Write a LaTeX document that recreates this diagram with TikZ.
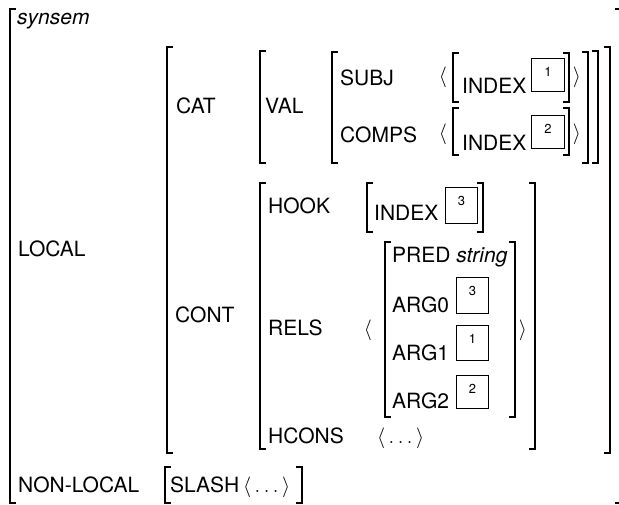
\documentclass[tikz,border=0pt]{standalone}
\usepackage{fontspec}
\setmainfont{TeX Gyre Heros}
\tikzset{
  br/.style={line width=1.1pt, line cap=rect},
  txt/.style={anchor=base west, inner sep=0pt, font=\fontsize{21}{25}\selectfont},
  ang/.style={inner sep=0pt, font=\fontsize{21}{25}\selectfont},
  tagbox/.style={draw, line width=0.8pt, inner sep=0pt},
  tagnum/.style={inner sep=0pt, font=\fontsize{13}{15}\selectfont},
}
\newcommand\avmL[4]{\draw[br] (#2,#3) ++(5,0) coordinate (#1-t) -- (#2,#3) -- (#2,#4) -- ++(5,0) coordinate (#1-b);}
\newcommand\avmR[4]{\draw[br] (#2,#3) ++(-5,0) coordinate (#1-t) -- (#2,#3) -- (#2,#4) -- ++(-5,0) coordinate (#1-b);}
\newcommand\tagat[6]{\node[tagbox, minimum width=#4-#2, minimum height=#5-#3, anchor=north west] (#1) at (#2,#3) {};
  \node[tagnum] (#1-n) at ([yshift=-14pt]#1.north) {#6};}
\begin{document}
\begin{tikzpicture}[x=1pt,y=-1pt]
\useasboundingbox (0,0) rectangle (619,504);
% brackets
\avmL{outL}{10}{9}{503}
\avmR{outR}{620.5}{9}{503}
\avmL{locL}{167}{47}{453}
\avmR{locR}{610}{47}{453}
\avmL{catL}{260}{51}{163}
\avmR{catR}{598}{51}{163}
\avmL{valL}{332}{52}{163}
\avmR{valR}{588}{52}{163}
\avmL{sbL}{453}{53}{102}
\avmR{sbR}{569}{53}{102}
\avmL{cmL}{453}{108}{155}
\avmR{cmR}{569}{108}{155}
\avmL{conL}{260}{183}{449}
\avmR{conR}{535}{183}{449}
\avmL{hkL}{367}{183}{232}
\avmR{hkR}{483}{183}{232}
\avmL{rlL}{385}{242}{417}
\avmR{rlR}{515}{242}{417}
\avmL{slL}{165}{467}{503}
\avmR{slR}{302}{467}{503}
% texts
\node[txt, font=\fontsize{21}{25}\selectfont\itshape] (synsem) at (17,24) {synsem};
\node[txt] (local) at (18,256) {LOCAL};
\node[txt] (nonlocal) at (18,492) {NON-LOCAL};
\node[txt] (cat) at (176,113) {CAT};
\node[txt] (cont) at (175,322) {CONT};
\node[txt] (val) at (265,113) {VAL};
\node[txt] (subj) at (340,85) {SUBJ};
\node[txt] (comps) at (340,142) {COMPS};
\node[txt] (ix1) at (462,93) {INDEX};
\node[txt] (ix2) at (462,150) {INDEX};
\node[txt] (ix3) at (374,220) {INDEX};
\node[txt] (hook) at (268,213) {HOOK};
\node[txt] (rels) at (268,335) {RELS};
\node[txt] (hcons) at (268,443) {HCONS};
\node[txt] (pred) at (392,262) {PRED \textit{string}};
\node[txt] (arg0) at (392,312) {ARG0};
\node[txt] (arg1) at (392,360) {ARG1};
\node[txt] (arg2) at (392,408) {ARG2};
\node[txt] (slash) at (170,492) {SLASH};
\node[txt] (hcl) at (377,443) {$\langle\,\ldots\,\rangle$};
\node[txt] (sll) at (243,492) {$\langle\,\ldots\,\rangle$};
% angle brackets
\node[ang] (a1) at (443,77) {$\langle$};
\node[ang] (a2) at (577,77) {$\rangle$};
\node[ang] (a3) at (443,134) {$\langle$};
\node[ang] (a4) at (577,134) {$\rangle$};
\node[ang] (a5) at (368,330) {$\langle$};
\node[ang] (a6) at (523,330) {$\rangle$};
% tags
\tagat{t1}{531}{58}{564}{91}{1}
\tagat{t2}{531}{115}{564}{148}{2}
\tagat{t3}{445}{187}{477}{223}{3}
\tagat{t4}{456}{277}{488}{313}{3}
\tagat{t5}{456}{325}{488}{360}{1}
\tagat{t6}{456}{375}{488}{408}{2}
\end{tikzpicture}
\end{document}
